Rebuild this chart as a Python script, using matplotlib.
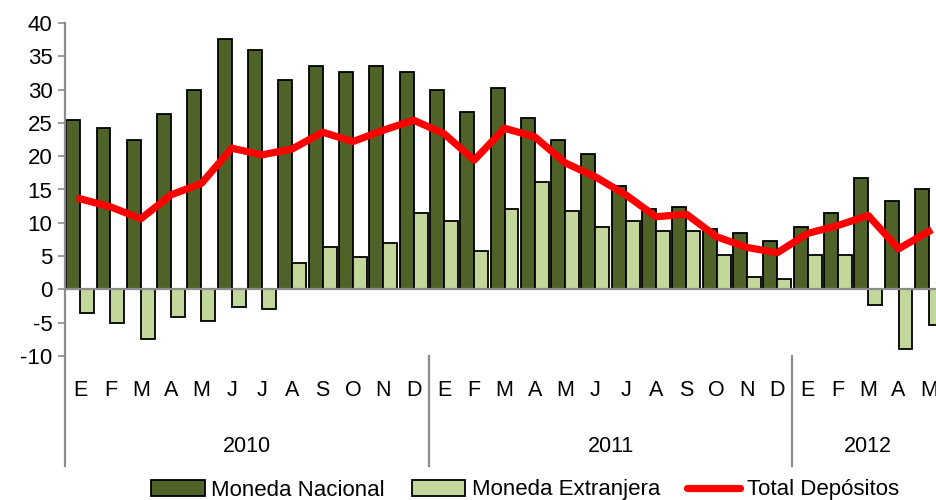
import matplotlib
matplotlib.use("Agg")
import matplotlib.pyplot as plt
import numpy as np
from matplotlib.lines import Line2D
from matplotlib.patches import Patch

plt.rcParams["font.family"] = ["Liberation Sans", "DejaVu Sans"]
plt.rcParams["axes.unicode_minus"] = False

# Datos (variación % anual)
meses = ["E", "F", "M", "A", "M", "J", "J", "A", "S", "O", "N", "D",
         "E", "F", "M", "A", "M", "J", "J", "A", "S", "O", "N", "D",
         "E", "F", "M", "A", "M"]
anios = ["2010", "2011", "2012"]
meses_por_anio = [12, 12, 5]

moneda_nacional = [25.4, 24.2, 22.4, 26.3, 29.9, 37.6, 35.9, 31.4, 33.5, 32.6, 33.5, 32.6,
                   29.9, 26.6, 30.2, 25.7, 22.4, 20.3, 15.6, 12.0, 12.3, 9.0, 8.4, 7.2,
                   9.3, 11.4, 16.7, 13.2, 15.0]
moneda_extranjera = [-3.6, -5.1, -7.5, -4.2, -4.8, -2.7, -3.0, 3.9, 6.3, 4.8, 6.9, 11.4,
                     10.2, 5.7, 12.0, 16.1, 11.7, 9.3, 10.2, 8.7, 8.7, 5.1, 1.9, 1.5,
                     5.1, 5.1, -2.3, -9.0, -5.3]
total_depositos = [13.6, 12.4, 10.6, 14.2, 15.9, 21.2, 20.2, 21.1, 23.6, 22.2, 23.9, 25.4,
                   23.4, 19.4, 24.2, 22.9, 19.0, 16.9, 14.2, 10.9, 11.3, 7.9, 6.3, 5.5,
                   8.4, 9.6, 11.1, 6.1, 8.7]

C_NAC = "#4f6228"
C_EXT = "#c4d79b"
C_TOT = "#ff0000"
C_AX = "#8c8c8c"

fig = plt.figure(figsize=(9.36, 5.0), dpi=100)
# el gráfico original está recortado a la derecha
ax = fig.add_axes([65 / 936, 144 / 500, 879 / 936, 333 / 500])

x = np.arange(len(meses))
w = 0.46
ax.bar(x - w / 2, moneda_nacional, width=w, color=C_NAC, edgecolor="black", linewidth=1.3, zorder=2)
ax.bar(x + w / 2, moneda_extranjera, width=w, color=C_EXT, edgecolor="black", linewidth=1.3, zorder=2)
ax.axhline(0, color=C_AX, lw=1.6, zorder=3)
ax.plot(x, total_depositos, color=C_TOT, lw=5.2, solid_joinstyle="round", zorder=4)

ax.set_xlim(-0.5, len(meses) - 0.5)
ax.set_ylim(-10, 40)
ax.set_yticks(np.arange(-10, 41, 5))
ax.tick_params(axis="y", direction="out", length=5, width=1.2, color=C_AX,
               labelsize=16, pad=4)
ax.set_xticks([])
for s in ["top", "right", "bottom", "left"]:
    ax.spines[s].set_visible(False)

# eje de categorías de dos niveles
trans = ax.get_xaxis_transform()
for i, m in enumerate(meses):
    ax.text(i, -34 / 333, m, transform=trans, ha="center", va="center", fontsize=15.5)
bottom = -110 / 333
ax.plot([-0.5, -0.5], [1.0, bottom], transform=trans, color=C_AX, lw=1.6, clip_on=False)
inicio = 0
for anio, n in zip(anios, meses_por_anio):
    ax.text(inicio + (n - 1) / 2 if n == 12 else inicio + 2, -91 / 333, anio,
            transform=trans, ha="center", va="center", fontsize=15.5)
    fin = inicio + n
    if fin < len(meses):
        ax.plot([fin - 0.5, fin - 0.5], [0, bottom], transform=trans, color=C_AX,
                lw=1.6, clip_on=False)
    inicio = fin

handles = [
    Patch(facecolor=C_NAC, edgecolor="black", linewidth=1.3),
    Patch(facecolor=C_EXT, edgecolor="black", linewidth=1.3),
    Line2D([0], [0], color=C_TOT, lw=5.2, solid_capstyle="round"),
]
fig.legend(handles, ["Moneda Nacional", "Moneda Extranjera", "Total Depósitos"],
           loc="center", bbox_to_anchor=(525 / 936, 10 / 500), ncol=3, frameon=False,
           fontsize=16, handlelength=2.4, handleheight=0.7, handletextpad=0.3,
           columnspacing=1.2, borderpad=0)

fig.savefig("out.png", dpi=100)
